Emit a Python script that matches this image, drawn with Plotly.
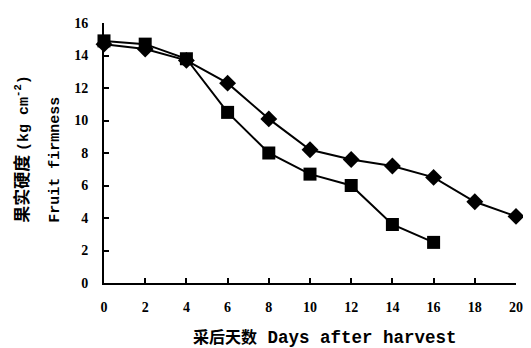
import plotly.graph_objects as go

days = [0, 2, 4, 6, 8, 10, 12, 14, 16, 18, 20]
firmness_diamond = [14.7, 14.4, 13.7, 12.3, 10.1, 8.2, 7.6, 7.2, 6.5, 5.0, 4.1]
days_square = [0, 2, 4, 6, 8, 10, 12, 14, 16]
firmness_square = [14.9, 14.7, 13.8, 10.5, 8.0, 6.7, 6.0, 3.6, 2.5]
x_ticks = [0, 2, 4, 6, 8, 10, 12, 14, 16, 18, 20]
y_ticks = [0, 2, 4, 6, 8, 10, 12, 14, 16]

fig = go.Figure()
fig.add_trace(go.Scatter(
    x=days, y=firmness_diamond, mode="lines+markers",
    line=dict(color="black", width=2),
    marker=dict(symbol="diamond", size=13, color="black"),
    cliponaxis=False, showlegend=False))
fig.add_trace(go.Scatter(
    x=days_square, y=firmness_square, mode="lines+markers",
    line=dict(color="black", width=2),
    marker=dict(symbol="square", size=13, color="black"),
    cliponaxis=False, showlegend=False))

tickfont = dict(family="Liberation Serif", size=14, color="black", weight="bold")
fig.update_xaxes(range=[0, 20], tickvals=x_ticks, ticks="inside", ticklen=5,
                 tickwidth=1.5, tickcolor="black", showline=True, linecolor="black",
                 linewidth=2, showgrid=False, zeroline=False, tickfont=tickfont,
                 ticklabelstandoff=10)
fig.update_yaxes(range=[0, 16], tickvals=y_ticks, ticks="inside", ticklen=5,
                 tickwidth=1.5, tickcolor="black", showline=True, linecolor="black",
                 linewidth=2, showgrid=False, zeroline=False, tickfont=tickfont,
                 ticklabelstandoff=11)

# page body has an 8px margin, so figure coordinates are shifted by 8px
PW, PH = 413, 267
fig.add_annotation(text="采后天数<span style='font-family:Liberation Mono;font-size:17.5px'>&nbsp;Days after harvest</span>",
                   xref="paper", yref="paper", x=(326 - 104) / PW, y=-(337 - 283) / PH,
                   showarrow=False, xanchor="center", yanchor="middle",
                   font=dict(family="Noto Sans CJK SC", size=16, color="black", weight="bold"))
fig.add_annotation(text="果实硬度 <span style='font-family:Liberation Mono;font-size:15px'>(kg cm<sup>-2</sup>)</span>",
                   xref="paper", yref="paper", x=-(104 - 20) / PW, y=(283 - 223) / PH,
                   showarrow=False, xanchor="center", yanchor="bottom", textangle=-90,
                   font=dict(family="Noto Sans CJK SC", size=17, color="black", weight="bold"))
fig.add_annotation(text="Fruit firmness",
                   xref="paper", yref="paper", x=-(104 - 55) / PW, y=(283 - 223) / PH,
                   showarrow=False, xanchor="center", yanchor="bottom", textangle=-90,
                   font=dict(family="Liberation Mono", size=15, color="black", weight="bold"))

fig.update_layout(width=523, height=340, margin=dict(l=96, r=14, t=8, b=65),
                  plot_bgcolor="white", paper_bgcolor="white")
fig.write_html("out.html")
